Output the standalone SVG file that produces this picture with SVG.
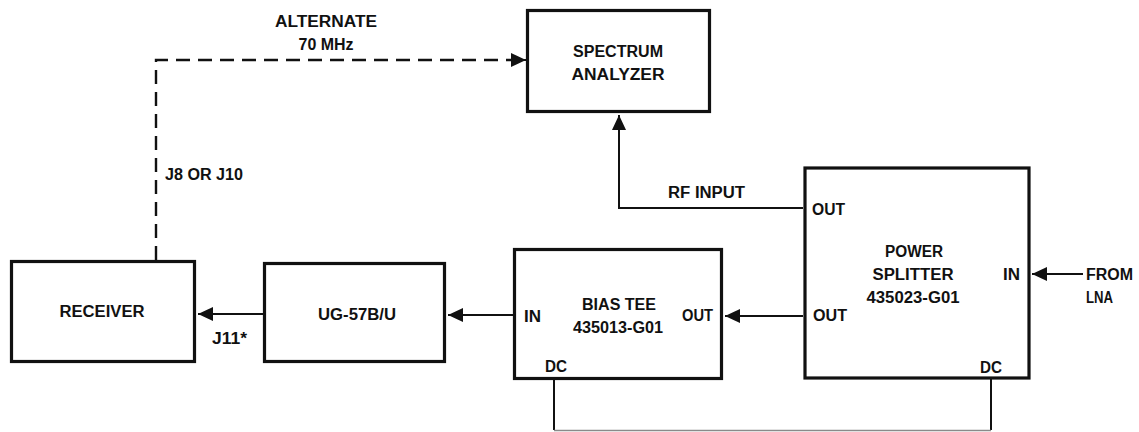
<svg xmlns="http://www.w3.org/2000/svg" width="1139" height="432" viewBox="0 0 1139 432">
  <style>
    .box { fill: #fff; stroke: #111; stroke-width: 3.2; }
    .wire { fill: none; stroke: #111; stroke-width: 2; }
    .dash { fill: none; stroke: #111; stroke-width: 2.4; stroke-dasharray: 14 8; }
    .faint { fill: none; stroke: #8a8a8a; stroke-width: 1.5; }
    text { font-family: "Liberation Sans", Arial, sans-serif; font-weight: bold; font-size: 16px; fill: #111; }
    .c { text-anchor: middle; }
  </style>
  <defs>
    <marker id="arrow" viewBox="0 0 15 14" refX="15" refY="7" markerWidth="15" markerHeight="14" markerUnits="userSpaceOnUse" orient="auto">
      <path d="M0,0 L15,7 L0,14 z" fill="#111"/>
    </marker>
  </defs>
  <rect width="1139" height="432" fill="#fff"/>

  <!-- signal paths -->
  <g id="connectors">
    <path class="dash" d="M156,260 V60 H512"/>
    <path class="wire" d="M512,60 H526" marker-end="url(#arrow)"/>
    <path class="wire" d="M803,208 H619 V115" marker-end="url(#arrow)"/>
    <path class="wire" d="M803,316 H725" marker-end="url(#arrow)"/>
    <path class="wire" d="M513,315 H448" marker-end="url(#arrow)"/>
    <path class="wire" d="M263,314 H198" marker-end="url(#arrow)"/>
    <path class="wire" d="M1083,274 H1032" marker-end="url(#arrow)"/>
    <path class="wire" d="M554,380 V430"/>
    <path class="wire" d="M991,379 V430"/>
    <path class="faint" d="M554,430.5 H991"/>
    <text x="326" y="27" class="c" textLength="102" lengthAdjust="spacingAndGlyphs">ALTERNATE</text>
    <text x="326" y="50" class="c" textLength="55" lengthAdjust="spacingAndGlyphs">70 MHz</text>
    <text x="165" y="180" textLength="78" lengthAdjust="spacingAndGlyphs">J8 OR J10</text>
    <text x="668" y="198" textLength="77" lengthAdjust="spacingAndGlyphs">RF INPUT</text>
    <text x="212" y="344" textLength="35" lengthAdjust="spacingAndGlyphs">J11*</text>
    <text x="1086" y="280" textLength="47" lengthAdjust="spacingAndGlyphs">FROM</text>
    <text x="1086" y="303" textLength="27" lengthAdjust="spacingAndGlyphs">LNA</text>
  </g>

  <g id="spectrum-analyzer">
    <rect class="box" x="527.5" y="10.5" width="182" height="101"/>
    <text x="618" y="57" class="c" textLength="90" lengthAdjust="spacingAndGlyphs">SPECTRUM</text>
    <text x="618" y="80" class="c" textLength="93" lengthAdjust="spacingAndGlyphs">ANALYZER</text>
  </g>

  <g id="power-splitter">
    <rect class="box" x="805" y="168" width="224" height="210"/>
    <text x="812" y="215" textLength="33" lengthAdjust="spacingAndGlyphs">OUT</text>
    <text x="813" y="321" textLength="34" lengthAdjust="spacingAndGlyphs">OUT</text>
    <text x="914" y="257" class="c" textLength="58" lengthAdjust="spacingAndGlyphs">POWER</text>
    <text x="913" y="280" class="c" textLength="81" lengthAdjust="spacingAndGlyphs">SPLITTER</text>
    <text x="913" y="303" class="c" textLength="93" lengthAdjust="spacingAndGlyphs">435023-G01</text>
    <text x="1003" y="280" textLength="17" lengthAdjust="spacingAndGlyphs">IN</text>
    <text x="980" y="373" textLength="22" lengthAdjust="spacingAndGlyphs">DC</text>
  </g>

  <g id="bias-tee">
    <rect class="box" x="514.5" y="249.5" width="207" height="129"/>
    <text x="524" y="322" textLength="17" lengthAdjust="spacingAndGlyphs">IN</text>
    <text x="619" y="310" class="c" textLength="74" lengthAdjust="spacingAndGlyphs">BIAS TEE</text>
    <text x="618" y="333" class="c" textLength="90" lengthAdjust="spacingAndGlyphs">435013-G01</text>
    <text x="682" y="321" textLength="31" lengthAdjust="spacingAndGlyphs">OUT</text>
    <text x="545" y="372" textLength="22" lengthAdjust="spacingAndGlyphs">DC</text>
  </g>

  <g id="ug-57b-u">
    <rect class="box" x="264.5" y="263.5" width="180" height="98"/>
    <text x="357" y="320" class="c" textLength="78" lengthAdjust="spacingAndGlyphs">UG-57B/U</text>
  </g>

  <g id="receiver">
    <rect class="box" x="11.5" y="261.5" width="183" height="100"/>
    <text x="102" y="317" class="c" textLength="85" lengthAdjust="spacingAndGlyphs">RECEIVER</text>
  </g>
</svg>
